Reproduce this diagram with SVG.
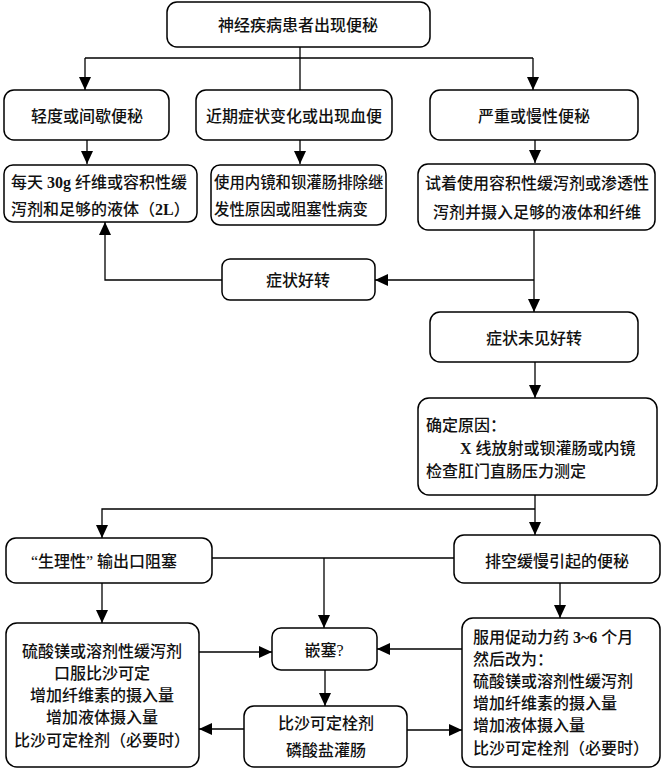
<svg xmlns="http://www.w3.org/2000/svg" width="664" height="776" viewBox="0 0 664 776">
<defs>
<style>
.box{fill:#fff;stroke:#000;stroke-width:1.5}
.t{font-family:"Liberation Serif","Noto Sans CJK SC",serif;font-size:16px;font-weight:500;fill:#111;dominant-baseline:central}
.c{text-anchor:middle}
.b{font-weight:bold}
.ln{fill:none;stroke:#000;stroke-width:1.3}
</style>
<marker id="ah" markerUnits="userSpaceOnUse" markerWidth="14" markerHeight="12" refX="13" refY="6" orient="auto">
<path d="M0,0 L13,6 L0,12 Z" fill="#000"/>
</marker>
</defs>
<rect width="664" height="776" fill="#fff"/>

<g id="connectors">
<path class="ln" d="M300,47 V90"/>
<path class="ln" d="M85,58 H533"/>
<path class="ln" d="M85,58 V90" marker-end="url(#ah)"/>
<path class="ln" d="M533,58 V90" marker-end="url(#ah)"/>
<path class="ln" d="M87,140 V164" marker-end="url(#ah)"/>
<path class="ln" d="M300,140 V164" marker-end="url(#ah)"/>
<path class="ln" d="M535,140 V163" marker-end="url(#ah)"/>
<path class="ln" d="M534,230 V312" marker-end="url(#ah)"/>
<path class="ln" d="M534,280 H375" marker-end="url(#ah)"/>
<path class="ln" d="M222,280 H105 V222" marker-end="url(#ah)"/>
<path class="ln" d="M535,362 V398" marker-end="url(#ah)"/>
<path class="ln" d="M535,495 V535" marker-end="url(#ah)"/>
<path class="ln" d="M535,509 H102 V538" marker-end="url(#ah)"/>
<path class="ln" d="M212,558 H454"/>
<path class="ln" d="M324,558 V628" marker-end="url(#ah)"/>
<path class="ln" d="M102,583 V623" marker-end="url(#ah)"/>
<path class="ln" d="M560,583 V618" marker-end="url(#ah)"/>
<path class="ln" d="M199,652 H272" marker-end="url(#ah)"/>
<path class="ln" d="M462,649 H377" marker-end="url(#ah)"/>
<path class="ln" d="M325,670 V706" marker-end="url(#ah)"/>
<path class="ln" d="M244,729 H199" marker-end="url(#ah)"/>
<path class="ln" d="M407,730 H462" marker-end="url(#ah)"/>
</g>

<g id="n_top">
<rect class="box" x="167" y="2" width="263" height="45" rx="10"/>
<text class="t c" x="298" y="25">神经疾病患者出现便秘</text>
</g>
<g id="n_mild">
<rect class="box" x="4" y="90" width="165" height="50" rx="10"/>
<text class="t c" x="87" y="116">轻度或间歇便秘</text>
</g>
<g id="n_recent">
<rect class="box" x="196" y="90" width="196" height="50" rx="10"/>
<text class="t c" x="294" y="116">近期症状变化或出现血便</text>
</g>
<g id="n_severe">
<rect class="box" x="430" y="90" width="208" height="50" rx="10"/>
<text class="t c" x="534" y="116">严重或慢性便秘</text>
</g>
<g id="n_fiber">
<rect class="box" x="4" y="165" width="193" height="57" rx="9"/>
<text class="t" x="11" y="182">每天 <tspan class="b">30g</tspan> 纤维或容积性缓</text>
<text class="t" x="11" y="209">泻剂和足够的液体（<tspan class="b">2L</tspan>）</text>
</g>
<g id="n_endo">
<rect class="box" x="211" y="165" width="175" height="60" rx="9"/>
<text class="t" x="214" y="182" style="font-size:15.4px">使用内镜和钡灌肠排除继</text>
<text class="t" x="214" y="209" style="font-size:15.4px">发性原因或阻塞性病变</text>
</g>
<g id="n_try">
<rect class="box" x="418" y="164" width="237" height="66" rx="10"/>
<text class="t c" x="537" y="183">试着使用容积性缓泻剂或渗透性</text>
<text class="t c" x="537" y="212">泻剂并摄入足够的液体和纤维</text>
</g>
<g id="n_better">
<rect class="box" x="222" y="259" width="153" height="41" rx="8"/>
<text class="t c" x="298" y="280">症状好转</text>
</g>
<g id="n_notbetter">
<rect class="box" x="430" y="312" width="208" height="50" rx="10"/>
<text class="t c" x="534" y="338">症状未见好转</text>
</g>
<g id="n_cause">
<rect class="box" x="418" y="398" width="239" height="97" rx="11"/>
<text class="t" x="426" y="425">确定原因：</text>
<text class="t" x="460" y="448"><tspan class="b">X</tspan> 线放射或钡灌肠或内镜</text>
<text class="t" x="426" y="471">检查肛门直肠压力测定</text>
</g>
<g id="n_outlet">
<rect class="box" x="6" y="538" width="206" height="45" rx="10"/>
<text class="t c" x="104" y="561">“生理性” 输出口阻塞</text>
</g>
<g id="n_slow">
<rect class="box" x="454" y="535" width="206" height="48" rx="10"/>
<text class="t c" x="557" y="561">排空缓慢引起的便秘</text>
</g>
<g id="n_left">
<rect class="box" x="6" y="623" width="193" height="144" rx="11"/>
<text class="t c" x="102" y="651">硫酸镁或溶剂性缓泻剂</text>
<text class="t c" x="102" y="673">口服比沙可定</text>
<text class="t c" x="102" y="695">增加纤维素的摄入量</text>
<text class="t c" x="102" y="717">增加液体摄入量</text>
<text class="t c" x="102" y="740">比沙可定栓剂（必要时）</text>
</g>
<g id="n_impact">
<rect class="box" x="272" y="628" width="105" height="42" rx="9"/>
<text class="t c" x="324" y="650">嵌塞?</text>
</g>
<g id="n_supp">
<rect class="box" x="244" y="706" width="163" height="61" rx="10"/>
<text class="t c" x="326" y="723">比沙可定栓剂</text>
<text class="t c" x="326" y="750">磷酸盐灌肠</text>
</g>
<g id="n_right">
<rect class="box" x="462" y="618" width="198" height="149" rx="11"/>
<text class="t" x="473" y="637">服用促动力药 <tspan class="b">3~6</tspan> 个月</text>
<text class="t" x="473" y="659">然后改为：</text>
<text class="t" x="473" y="681">硫酸镁或溶剂性缓泻剂</text>
<text class="t" x="473" y="703">增加纤维素的摄入量</text>
<text class="t" x="473" y="725">增加液体摄入量</text>
<text class="t" x="473" y="748">比沙可定栓剂（必要时）</text>
</g>
</svg>
